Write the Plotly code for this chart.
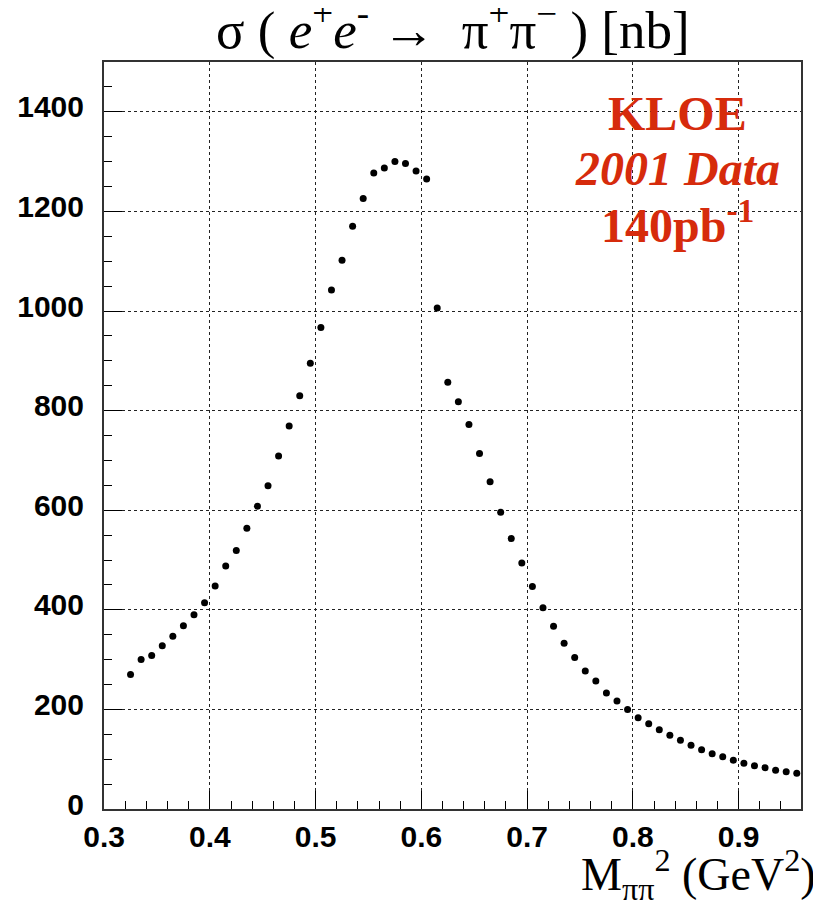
import plotly.graph_objects as go

# M_pipi^2 bin centres (GeV^2)
mass2 = [0.325, 0.335, 0.345, 0.355, 0.365, 0.375, 0.385, 0.395, 0.405, 0.415,
         0.425, 0.435, 0.445, 0.455, 0.465, 0.475, 0.485, 0.495, 0.505, 0.515,
         0.525, 0.535, 0.545, 0.555, 0.565, 0.575, 0.585, 0.595, 0.605, 0.615,
         0.625, 0.635, 0.645, 0.655, 0.665, 0.675, 0.685, 0.695, 0.705, 0.715,
         0.725, 0.735, 0.745, 0.755, 0.765, 0.775, 0.785, 0.795, 0.805, 0.815,
         0.825, 0.835, 0.845, 0.855, 0.865, 0.875, 0.885, 0.895, 0.905, 0.915,
         0.925, 0.935, 0.945, 0.955]
# sigma(ee -> pipi) in nb
sigma_nb = [270, 300, 308, 328, 347, 368, 390, 414, 448, 488,
            519, 564, 608, 649, 709, 769, 830, 895, 967, 1042,
            1102, 1170, 1226, 1277, 1287, 1300, 1296, 1281, 1265, 1006,
            857, 818, 772, 714, 657, 596, 543, 494, 447, 404,
            367, 333, 304, 277, 257, 233, 217, 200, 183, 171,
            159, 148, 138, 128, 119, 111, 105, 98, 92, 87,
            83, 78, 75, 72]

title_text = "σ ( <i>e</i><sup>+</sup><i>e</i><sup>-</sup> →  π<sup>+</sup>π<sup>−</sup> ) [nb]"
xtitle_text = "M<sub>ππ</sub><sup>2</sup> (GeV<sup>2</sup>)"
label_lines = ["<b>KLOE</b>", "<b><i>2001 Data</i></b>", "<b>140pb<sup>-1</sup></b>"]
label_y = [0.9317, 0.858, 0.786]

RED = "#d62b0c"
SERIF = "Liberation Serif"
SANS = "Liberation Sans"

fig = go.Figure()
fig.add_trace(go.Scatter(
    x=mass2, y=sigma_nb, mode="markers",
    marker=dict(color="black", size=7, symbol="circle"),
    showlegend=False, hoverinfo="x+y"))

axis_common = dict(
    automargin=False,
    showline=True, linecolor="#333", linewidth=2, mirror=True,
    showgrid=True, gridcolor="#222", gridwidth=1, griddash="dot",
    zeroline=False, ticks="inside", ticklen=18, tickwidth=1, tickcolor="black",
    tickfont=dict(family=SANS, size=30, color="black", weight="bold"),
)

fig.update_xaxes(
    range=[0.2999, 0.959], dtick=0.1, tick0=0, tickformat=".1f",
    minor=dict(dtick=0.02, ticks="inside", ticklen=8, tickcolor="black", showgrid=False),
    ticklabelstandoff=0,
    **axis_common)
fig.update_yaxes(
    range=[0, 1500], dtick=200, tick0=0,
    minor=dict(dtick=50, ticks="inside", ticklen=8, tickcolor="black", showgrid=False),
    ticklabelstandoff=12, ticklabelshift=-5,
    **axis_common)

fig.add_annotation(text=title_text, xref="paper", yref="paper", x=0.5, y=1.0,
                   xanchor="center", yanchor="bottom", showarrow=False,
                   font=dict(family=SERIF, size=53, color="black"))
fig.add_annotation(text=xtitle_text, xref="paper", yref="paper", x=1.0244, y=-0.042,
                   xanchor="right", yanchor="top", showarrow=False,
                   font=dict(family=SERIF, size=46, color="black"))

for line, ypos in zip(label_lines, label_y):
    fig.add_annotation(text=line, xref="paper", yref="paper", x=0.8235, y=ypos,
                       xanchor="center", yanchor="middle", showarrow=False,
                       font=dict(family=SERIF, size=48, color=RED))

# the page body adds an 8 px margin, so the figure is made 8 px smaller
fig.update_layout(
    width=813, height=903,
    margin=dict(l=96, r=20, t=54, b=102),
    paper_bgcolor="white", plot_bgcolor="white",
)

fig.write_html("out.html")
